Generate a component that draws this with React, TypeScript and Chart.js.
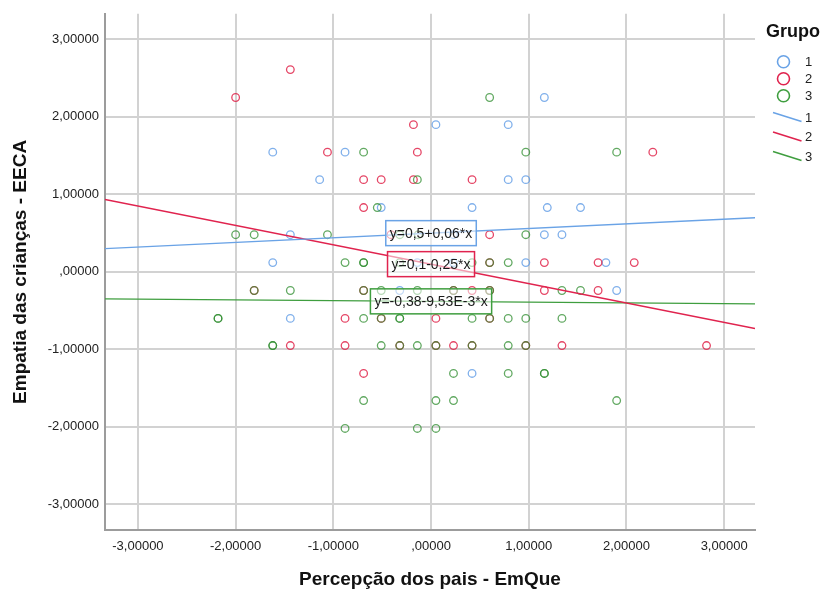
import { useEffect, useRef } from "react";
import { Chart, registerables } from "chart.js";

Chart.register(...registerables);

const FONT = '"Liberation Sans", Arial, Helvetica, sans-serif';

const groupNames = ["1", "2", "3"];

const group1X = [1.16, 0.05, 0.79, -1.62, -0.88, -1.14, 0.79, 0.97, -0.51, 0.42, 1.19, 1.53, -1.44, 0.23, 1.16, 1.34, -1.62, -0.14, 0.23, 0.97, 1.79, -0.32, 1.9, -1.44, 0.42];
const group1Y = [2.25, 1.9, 1.9, 1.545, 1.545, 1.19, 1.19, 1.19, 0.83, 0.83, 0.83, 0.83, 0.48, 0.48, 0.48, 0.48, 0.12, 0.12, 0.12, 0.12, 0.12, -0.24, -0.24, -0.6, -1.31];

const group2X = [-1.44, -2.0, -0.18, -1.06, -0.14, 2.27, -0.69, -0.51, -0.18, 0.42, -0.69, -0.41, 0.6, 0.6, 1.16, 1.71, 2.08, -1.81, -0.69, 0.23, 0.42, 0.6, 1.16, 1.71, -0.88, -0.51, 0.05, 0.6, -1.44, -0.88, -0.32, 0.05, 0.23, 0.42, 0.97, 1.34, 2.82, -0.69];
const group2Y = [2.61, 2.25, 1.9, 1.545, 1.545, 1.545, 1.19, 1.19, 1.19, 1.19, 0.83, 0.48, 0.48, 0.12, 0.12, 0.12, 0.12, -0.24, -0.24, -0.24, -0.24, -0.24, -0.24, -0.24, -0.6, -0.6, -0.6, -0.6, -0.95, -0.95, -0.95, -0.95, -0.95, -0.95, -0.95, -0.95, -0.95, -1.31];

const group3X = [
  0.6,
  -0.69, 0.97, 1.9,
  -0.14,
  -0.55,
  -2.0, -1.81, -1.06, -0.32, -0.13, 0.97,
  -0.88, -0.69, -0.69, -0.32, 0.42, 0.6, 0.79,
  -1.81, -1.44, -0.69, -0.51, -0.14, 0.23, 0.6, 1.34, 1.53,
  -2.18, -2.18, -0.69, -0.51, -0.32, -0.32, 0.42, 0.6, 0.79, 0.97, 1.34,
  -1.62, -1.62, -0.51, -0.32, -0.14, 0.05, 0.42, 0.79, 0.97,
  0.23, 0.79, 1.16, 1.16,
  -0.69, 0.05, 0.23, 1.9,
  -0.88, -0.14, 0.05,
];
const group3Y = [
  2.25,
  1.545, 1.545, 1.545,
  1.19,
  0.83,
  0.48, 0.48, 0.48, 0.48, 0.48, 0.48,
  0.12, 0.12, 0.12, 0.12, 0.12, 0.12, 0.12,
  -0.24, -0.24, -0.24, -0.24, -0.24, -0.24, -0.24, -0.24, -0.24,
  -0.6, -0.6, -0.6, -0.6, -0.6, -0.6, -0.6, -0.6, -0.6, -0.6, -0.6,
  -0.95, -0.95, -0.95, -0.95, -0.95, -0.95, -0.95, -0.95, -0.95,
  -1.31, -1.31, -1.31, -1.31,
  -1.66, -1.66, -1.66, -1.66,
  -2.02, -2.02, -2.02,
];

// regression lines shown in the chart: y = a + b*x
const intercepts = [0.5, 0.1, -0.38];
const slopes = [0.06, -0.25, -0.00953];
const equationTexts = ["y=0,5+0,06*x", "y=0,1-0,25*x", "y=-0,38-9,53E-3*x"];

const xTickValues = [-3, -2, -1, 0, 1, 2, 3];
const xTickLabels = ["-3,00000", "-2,00000", "-1,00000", ",00000", "1,00000", "2,00000", "3,00000"];
const yTickValues = [-3, -2, -1, 0, 1, 2, 3];
const yTickLabels = ["-3,00000", "-2,00000", "-1,00000", ",00000", "1,00000", "2,00000", "3,00000"];

const X_MIN = -3.337;
const X_MAX = 3.316;
const Y_MIN = -3.33;
const Y_MAX = 3.33;

const pointColors = ["rgba(85,150,228,0.75)", "rgba(222,24,64,0.8)", "rgba(45,140,45,0.75)"];
const lineColors = ["#6aa3e6", "#e0234e", "#3f9e3f"];
const legendRingColors = ["#6aa3e6", "#e0234e", "#3f9e3f"];

const groupsX = [group1X, group2X, group3X];
const groupsY = [group1Y, group2Y, group3Y];

const overlayPlugin = {
  id: "overlay",
  afterDatasetsDraw(chart: any) {
    const ctx = chart.ctx;
    const xs = chart.scales.x;
    const ys = chart.scales.y;
    ctx.save();
    ctx.font = `14px ${FONT}`;
    for (let i = 0; i < equationTexts.length; i++) {
      const cx = xs.getPixelForValue(0);
      const cy = ys.getPixelForValue(intercepts[i]);
      const tw = ctx.measureText(equationTexts[i]).width;
      const w = tw + 8;
      const h = 25;
      ctx.fillStyle = "rgba(255,255,255,0.55)";
      ctx.fillRect(cx - w / 2, cy - h / 2, w, h);
      ctx.strokeStyle = lineColors[i];
      ctx.lineWidth = 1.5;
      ctx.strokeRect(cx - w / 2, cy - h / 2, w, h);
      ctx.fillStyle = "#1a1a1a";
      ctx.textAlign = "center";
      ctx.textBaseline = "middle";
      ctx.fillText(equationTexts[i], cx, cy + 1);
    }
    ctx.restore();
  },
  afterDraw(chart: any) {
    const ctx = chart.ctx;
    ctx.save();
    ctx.fillStyle = "#111";
    ctx.font = `bold 18px ${FONT}`;
    ctx.textAlign = "left";
    ctx.textBaseline = "alphabetic";
    ctx.fillText("Grupo", 766, 36.5);
    ctx.font = `13px ${FONT}`;
    ctx.textBaseline = "middle";
    const circleY = [61.7, 78.7, 95.7];
    const lineY = [117, 136.5, 156];
    for (let i = 0; i < 3; i++) {
      ctx.beginPath();
      ctx.arc(783.5, circleY[i], 6, 0, Math.PI * 2);
      ctx.strokeStyle = legendRingColors[i];
      ctx.lineWidth = 1.6;
      ctx.stroke();
      ctx.fillStyle = "#222";
      ctx.fillText(groupNames[i], 805, circleY[i] + 1);
    }
    for (let i = 0; i < 3; i++) {
      ctx.beginPath();
      ctx.moveTo(773, lineY[i] - 4.5);
      ctx.lineTo(801.5, lineY[i] + 4.5);
      ctx.strokeStyle = lineColors[i];
      ctx.lineWidth = 1.5;
      ctx.stroke();
      ctx.fillStyle = "#222";
      ctx.fillText(groupNames[i], 805, lineY[i] + 1);
    }
    ctx.restore();
  },
};

export default function App() {
  const canvasRef = useRef<HTMLCanvasElement | null>(null);

  useEffect(() => {
    if (!canvasRef.current) return;
    const scatterSets = groupsX.map((xs, g) => ({
      type: "scatter" as const,
      label: groupNames[g],
      data: xs.map((x, i) => ({ x, y: groupsY[g][i] })),
      pointRadius: 3.8,
      pointHoverRadius: 3.8,
      pointBorderWidth: 1.3,
      pointBorderColor: pointColors[g],
      pointBackgroundColor: "rgba(0,0,0,0)",
      showLine: false,
      order: 3 - g + 1,
    }));
    const lineSets = intercepts.map((a, g) => ({
      type: "line" as const,
      label: groupNames[g],
      data: [
        { x: X_MIN, y: a + slopes[g] * X_MIN },
        { x: X_MAX, y: a + slopes[g] * X_MAX },
      ],
      borderColor: lineColors[g],
      borderWidth: g === 1 ? 1.5 : 1.3,
      pointRadius: 0,
      showLine: true,
      fill: false,
      order: 0,
    }));

    const chart = new Chart(canvasRef.current, {
      type: "scatter",
      data: { datasets: [...scatterSets, ...lineSets] as any },
      options: {
        animation: false,
        responsive: false,
        devicePixelRatio: 1,
        layout: { padding: { top: 10, right: 69, left: 0, bottom: 0 } },
        plugins: { legend: { display: false }, tooltip: { enabled: false } },
        scales: {
          x: {
            type: "linear",
            min: X_MIN,
            max: X_MAX,
            afterBuildTicks: (s: any) => {
              s.ticks = xTickValues.map((v) => ({ value: v }));
            },
            afterFit: (s: any) => {
              s.height = 59;
            },
            grid: { color: "#d2d2d2", lineWidth: 2, drawTicks: false },
            border: { display: true, color: "#9c9c9c", width: 2 },
            ticks: {
              padding: 9,
              color: "#222",
              font: { family: FONT, size: 13 },
              maxRotation: 0,
              autoSkip: false,
              callback: (v: any) => xTickLabels[xTickValues.indexOf(Number(v))],
            },
            title: {
              display: true,
              text: "Percepção dos pais - EmQue",
              color: "#111",
              font: { family: FONT, size: 19, weight: "bold", lineHeight: 1 },
              padding: { top: 0, bottom: 0 },
            },
          },
          y: {
            type: "linear",
            min: Y_MIN,
            max: Y_MAX,
            afterBuildTicks: (s: any) => {
              s.ticks = yTickValues.map((v) => ({ value: v }));
            },
            afterFit: (s: any) => {
              s.width = 105;
            },
            grid: { color: "#d2d2d2", lineWidth: 2, drawTicks: false },
            border: { display: true, color: "#9c9c9c", width: 2 },
            ticks: {
              padding: 6,
              color: "#222",
              font: { family: FONT, size: 13 },
              autoSkip: false,
              callback: (v: any) => yTickLabels[yTickValues.indexOf(Number(v))],
            },
            title: {
              display: true,
              text: "Empatia das crianças - EECA",
              color: "#111",
              font: { family: FONT, size: 19, weight: "bold" },
              padding: { top: 9, bottom: 0 },
            },
          },
        },
      },
      plugins: [overlayPlugin],
    });
    return () => chart.destroy();
  }, []);

  return (
    <div style={{ position: "fixed", left: 0, top: 0, width: 824, height: 589, background: "#fff" }}>
      <canvas ref={canvasRef} width={824} height={589} style={{ width: 824, height: 589, display: "block" }} />
    </div>
  );
}
